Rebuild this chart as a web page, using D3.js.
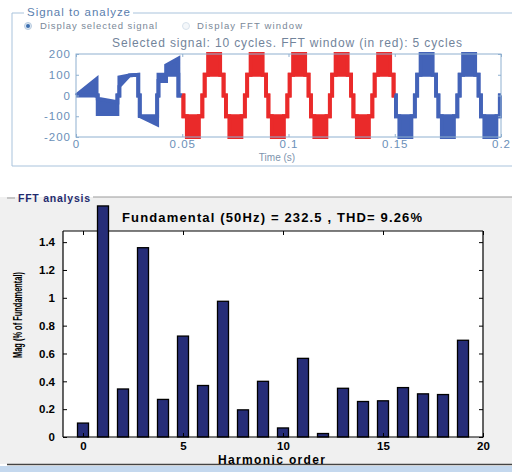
<!DOCTYPE html>
<html>
<head>
<meta charset="utf-8">
<script src="https://cdn.jsdelivr.net/npm/d3@7"></script>
<style>
  body { margin: 0; background: #fff; }
  svg { display: block; font-family: "Liberation Sans", Arial, sans-serif; }
</style>
</head>
<body>
<svg id="chart" width="512" height="472"></svg>
<script>
// ---- signal panel data ----
const timeTicks = [0, 0.05, 0.1, 0.15, 0.2];
const timeTickLabels = ['0', '0.05', '0.1', '0.15', '0.2'];
const signalTicks = [-200, -100, 0, 100, 200];
const fftWindow = [0.05, 0.15];

// first 2.5 cycles (start-up), [time, low edge, high edge]
const transient = [
  [0, 0, 0], [0.0097, 0, 80], [0.0097, 0, 0], [0.0102, 0, 0],
  [0.0102, -90, -15], [0.0155, -90, -25], [0.0195, -90, -32], [0.0195, 0, 0],
  [0.0204, 0, 0], [0.0204, 45, 88], [0.0251, 97, 97], [0.0293, 100, 100],
  [0.0293, 0, 0], [0.0300, 0, 0], [0.0300, -99, -99], [0.0382, -140, -99],
  [0.0382, 0, 0], [0.0388, 0, 0], [0.0388, 70, 100], [0.0424, 70, 100],
  [0.0424, 100, 145], [0.0482, 100, 178], [0.0482, 0, 0], [0.0500, 0, 0]
];

// one steady cycle: [offset in s, low edge, high edge], each held until next offset
const cyclePattern = [
  [0, 0, 0], [0.00055, 100, 100], [0.00215, 100, 200], [0.00785, 100, 100],
  [0.00945, 0, 0], [0.01055, -100, -100], [0.01215, -200, -100],
  [0.01785, -100, -100], [0.01945, 0, 0]
];
const cyclePeriod = 0.02;
const cycleStarts = [0.04, 0.06, 0.08, 0.10, 0.12, 0.14, 0.16, 0.18];

// ---- FFT panel data ----
const harmonicOrder = [0, 1, 2, 3, 4, 5, 6, 7, 8, 9, 10, 11, 12, 13, 14, 15, 16, 17, 18, 19];
const magPct = [0.10, 1.66, 0.345, 1.36, 0.27, 0.725, 0.37, 0.975, 0.195, 0.40,
                0.065, 0.565, 0.025, 0.35, 0.255, 0.26, 0.355, 0.31, 0.305, 0.695];
const harmonicTicks = [0, 5, 10, 15, 20];
const magTicks = [0, 0.2, 0.4, 0.6, 0.8, 1, 1.2, 1.4];

const svg = d3.select('#chart');

// ================= top panel =================
const frameBlue = '#a9c3dc';
svg.append('path')
    .attr('d', 'M24,13 H12 V166 H512 M133,13 H512')
    .attr('fill', 'none').attr('stroke', frameBlue).attr('stroke-width', 1);
svg.append('text').attr('x', 27).attr('y', 16).attr('font-size', 11.5)
    .attr('textLength', 103).attr('lengthAdjust', 'spacing')
    .attr('fill', '#5a7eae').text('Signal to analyze');

svg.append('circle').attr('cx', 28).attr('cy', 26).attr('r', 3.5)
    .attr('fill', '#dfe9f3').attr('stroke', '#b8cbe0');
svg.append('circle').attr('cx', 28).attr('cy', 26).attr('r', 2)
    .attr('fill', '#3d6fb0');
svg.append('text').attr('x', 40).attr('y', 29).attr('font-size', 9.5)
    .attr('textLength', 117).attr('lengthAdjust', 'spacing')
    .attr('fill', '#7a8898').text('Display selected signal');
svg.append('circle').attr('cx', 186).attr('cy', 26).attr('r', 3.5)
    .attr('fill', '#f4f7fa').attr('stroke', '#d8e2ec');
svg.append('text').attr('x', 197).attr('y', 29).attr('font-size', 9.5)
    .attr('textLength', 105).attr('lengthAdjust', 'spacing')
    .attr('fill', '#7a8898').text('Display FFT window');

svg.append('text').attr('x', 112).attr('y', 47).attr('font-size', 12)
    .attr('textLength', 350).attr('lengthAdjust', 'spacing').attr('fill', '#72849b')
    .text('Selected signal: 10 cycles. FFT window (in red): 5 cycles');

const xs = d3.scaleLinear().domain([0, 0.2]).range([76, 501]);
const ys = d3.scaleLinear().domain([-200, 200]).range([137, 54]);

svg.append('rect').attr('x', 76).attr('y', 54).attr('width', 425).attr('height', 83)
    .attr('fill', '#fff');

function steadyPoints(a, b) {
  const pts = [];
  cycleStarts.forEach(s => {
    cyclePattern.forEach((p, i) => {
      const next = i + 1 < cyclePattern.length ? s + cyclePattern[i + 1][0] : s + cyclePeriod;
      const t0 = Math.max(s + p[0], a), t1 = Math.min(next, b);
      if (t1 > t0) { pts.push([t0, p[1], p[2]]); pts.push([t1, p[1], p[2]]); }
    });
  });
  return pts;
}

const band = d3.area().x(d => xs(d[0])).y0(d => ys(d[1])).y1(d => ys(d[2]));
function drawSignal(pts, color) {
  const g = svg.append('g');
  g.append('path').attr('d', band(pts)).attr('fill', color);
  [band.lineY0(), band.lineY1()].forEach(l => {
    g.append('path').attr('d', l(pts)).attr('fill', 'none')
        .attr('stroke', color).attr('stroke-width', 3.8);
  });
}
const sigBlue = '#4363b8', sigRed = '#ea2a2a';
drawSignal(transient, sigBlue);
drawSignal(steadyPoints(fftWindow[0], fftWindow[1]), sigRed);
drawSignal(steadyPoints(fftWindow[1], 0.2), sigBlue);

const axisTop = '#8fb0d0';
svg.append('rect').attr('x', 76).attr('y', 54).attr('width', 425).attr('height', 83)
    .attr('fill', 'none').attr('stroke', axisTop);

const gxb = svg.append('g').attr('transform', 'translate(0,137)')
    .call(d3.axisBottom(xs).tickValues(timeTicks).tickFormat((d, i) => timeTickLabels[i])
        .tickSizeInner(-3).tickSizeOuter(0).tickPadding(3));
const gxt = svg.append('g').attr('transform', 'translate(0,54)')
    .call(d3.axisTop(xs).tickValues(timeTicks).tickFormat('').tickSizeInner(-3).tickSizeOuter(0));
const gyl = svg.append('g').attr('transform', 'translate(76,0)')
    .call(d3.axisLeft(ys).tickValues(signalTicks).tickFormat(d => d)
        .tickSizeInner(-3).tickSizeOuter(0).tickPadding(5));
const gyr = svg.append('g').attr('transform', 'translate(501,0)')
    .call(d3.axisRight(ys).tickValues(signalTicks).tickFormat('').tickSizeInner(-3).tickSizeOuter(0));
[gxb, gxt, gyl, gyr].forEach(g => {
  g.select('.domain').remove();
  g.selectAll('line').attr('stroke', axisTop);
  g.selectAll('text').attr('font-size', 11.5).attr('fill', '#6b8fb8')
      .attr('letter-spacing', 1)
      .attr('font-family', '"Liberation Sans", Arial, sans-serif');
});
svg.append('text').attr('x', 277).attr('y', 161).attr('font-size', 10)
    .attr('text-anchor', 'middle').attr('fill', '#7d93ad').text('Time (s)');

// ================= FFT panel =================
svg.append('rect').attr('x', 0).attr('y', 197).attr('width', 512).attr('height', 267)
    .attr('fill', '#f0f0f0');
svg.append('rect').attr('x', 0).attr('y', 466).attr('width', 512).attr('height', 6)
    .attr('fill', '#c4d8ee');
svg.append('path').attr('d', 'M7,198 H15 M93,197 H512')
    .attr('stroke', '#9a9a9a').attr('fill', 'none');
svg.append('path').attr('d', 'M7,464.5 H512')
    .attr('stroke', '#444').attr('stroke-width', 1.5);
svg.append('text').attr('x', 18).attr('y', 202).attr('font-size', 10.5)
    .attr('textLength', 72).attr('lengthAdjust', 'spacing')
    .attr('font-weight', 'bold').attr('fill', '#1f2b6e').text('FFT analysis');

const xh = d3.scaleLinear().domain([-1, 20]).range([63, 483]);
const ym = d3.scaleLinear().domain([0, 1.48]).range([437, 231]);

svg.append('rect').attr('x', 63).attr('y', 231).attr('width', 420).attr('height', 206)
    .attr('fill', '#fff');

const barW = 0.55;
svg.append('g').selectAll('rect').data(harmonicOrder).join('rect')
    .attr('x', d => xh(d - barW / 2))
    .attr('width', xh(barW) - xh(0))
    .attr('y', (d, i) => ym(magPct[i]))
    .attr('height', (d, i) => ym(0) - ym(magPct[i]))
    .attr('fill', '#262d78').attr('stroke', '#000').attr('stroke-width', 1.3);

svg.append('path')
    .attr('d', `M${xh(-1)},${ym(0)} V231 M${xh(20)},231 V${ym(0)} H${xh(-1)}`)
    .attr('fill', 'none').attr('stroke', '#000').attr('stroke-width', 1.2);
svg.append('path')
    .attr('d', `M${xh(-1)},231 H${xh(0.75)} M${xh(1.25)},231 H${xh(20)}`)
    .attr('fill', 'none').attr('stroke', '#000').attr('stroke-width', 1.2);

const hb = svg.append('g').attr('transform', `translate(0,${ym(0)})`)
    .call(d3.axisBottom(xh).tickValues(harmonicTicks).tickFormat(d => d)
        .tickSizeInner(-4).tickSizeOuter(0).tickPadding(5));
const ht = svg.append('g').attr('transform', 'translate(0,231)')
    .call(d3.axisTop(xh).tickValues(harmonicTicks).tickFormat('').tickSizeInner(-4).tickSizeOuter(0));
const ml = svg.append('g').attr('transform', `translate(${xh(-1)},0)`)
    .call(d3.axisLeft(ym).tickValues(magTicks).tickFormat(d => d)
        .tickSizeInner(-4).tickSizeOuter(0).tickPadding(8));
const mr = svg.append('g').attr('transform', `translate(${xh(20)},0)`)
    .call(d3.axisRight(ym).tickValues(magTicks).tickFormat('').tickSizeInner(-4).tickSizeOuter(0));
[hb, ht, ml, mr].forEach(g => {
  g.select('.domain').remove();
  g.selectAll('line').attr('stroke', '#000');
  g.selectAll('text').attr('font-size', 11.5).attr('font-weight', 'bold').attr('fill', '#000')
      .attr('font-family', '"Liberation Sans", Arial, sans-serif');
});

svg.append('text').attr('x', 122).attr('y', 222).attr('font-size', 13)
    .attr('font-weight', 'bold').attr('textLength', 300).attr('lengthAdjust', 'spacing')
    .text('Fundamental (50Hz) = 232.5 , THD= 9.26%');
svg.append('text').attr('x', 218).attr('y', 464).attr('font-size', 12)
    .attr('font-weight', 'bold').attr('textLength', 107).attr('lengthAdjust', 'spacing')
    .text('Harmonic order');
svg.append('text').attr('transform', 'translate(22,315) rotate(-90)')
    .attr('font-size', 12.5).attr('font-weight', 'bold').attr('text-anchor', 'middle')
    .attr('textLength', 86).attr('lengthAdjust', 'spacingAndGlyphs')
    .text('Mag (% of Fundamental)');
</script>
</body>
</html>
